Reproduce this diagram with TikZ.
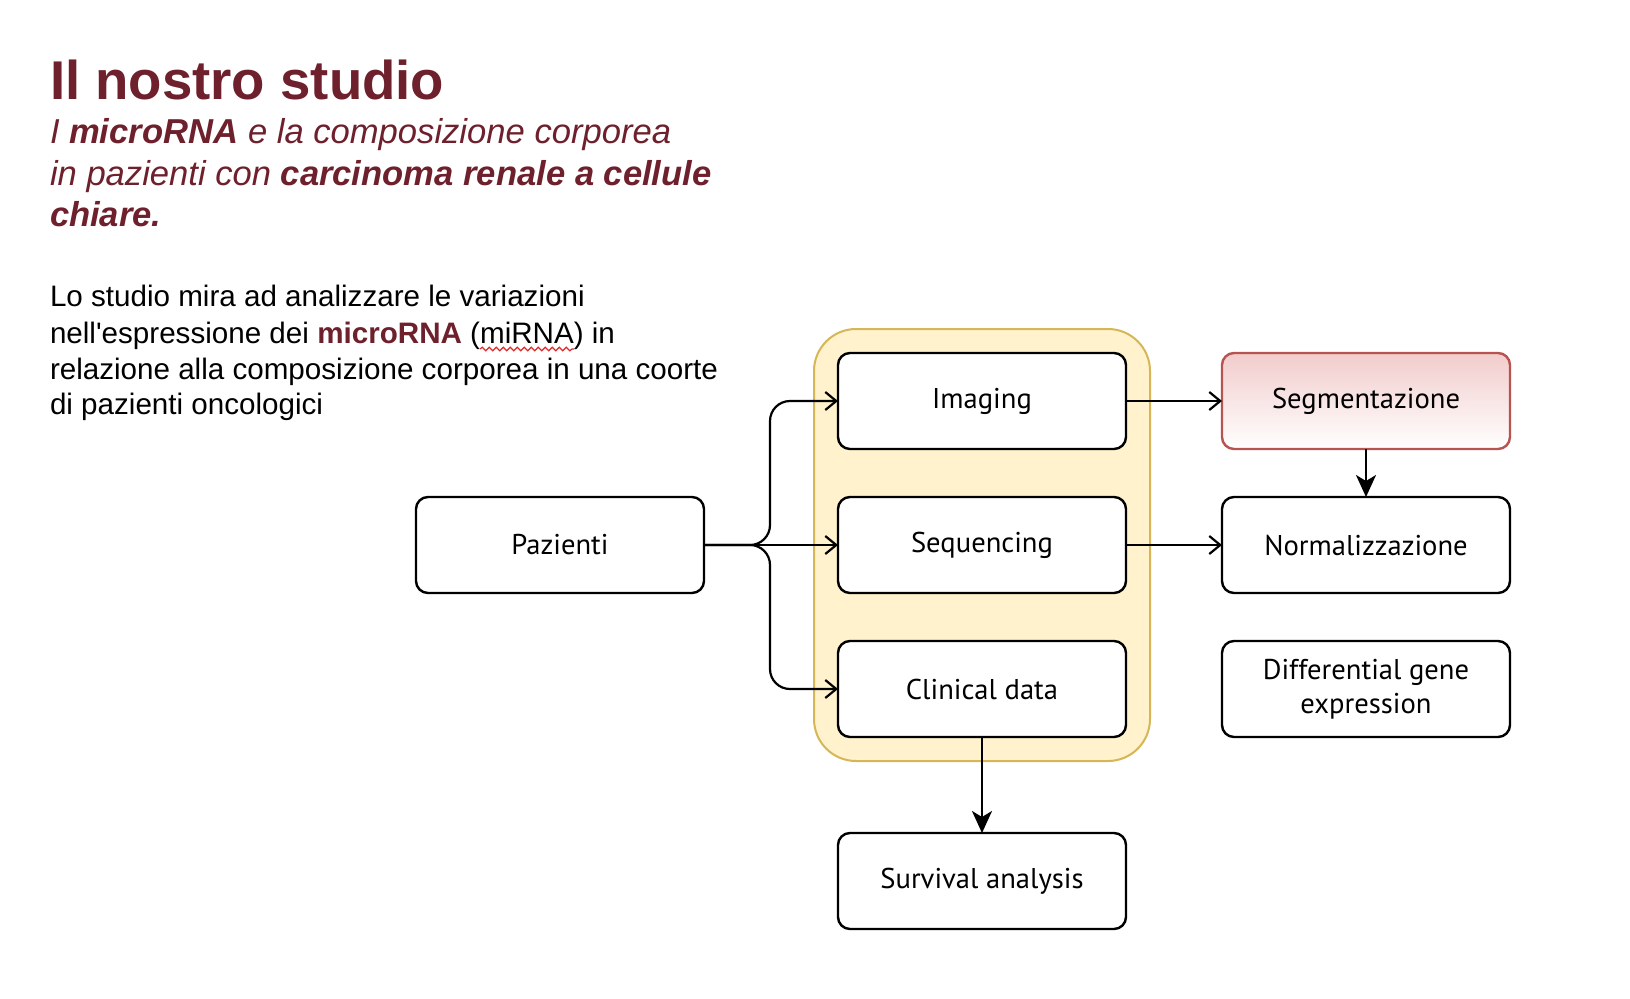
\documentclass[tikz,border=0pt]{standalone}
\usepackage{fontspec}
\setmainfont{Liberation Sans}
\newfontfamily\boxfont{PT Sans}
\usetikzlibrary{arrows.meta,decorations.pathmorphing}
\definecolor{titlered}{RGB}{110,32,44}
\definecolor{grpfill}{RGB}{255,242,204}
\definecolor{grpdraw}{RGB}{214,182,86}
\definecolor{segtop}{RGB}{242,204,204}
\definecolor{segdraw}{RGB}{184,84,80}
\definecolor{spellred}{RGB}{225,40,40}
\begin{document}
\begin{tikzpicture}[x=0.5pt,y=-0.5pt,
  boxbase/.style={line width=1.2pt, rounded corners=6pt, minimum width=144pt, minimum height=48pt,
    inner sep=0pt, outer sep=0pt, font=\boxfont\fontsize{14.3pt}{17pt}\selectfont, align=center},
  box/.style={boxbase, draw=black, fill=white},
  segbox/.style={boxbase, draw=segdraw, top color=segtop, bottom color=white},
  grpbox/.style={draw=grpdraw, fill=grpfill, line width=1pt, rounded corners=21pt,
    minimum width=168pt, minimum height=216pt, inner sep=0pt, outer sep=0pt},
  openarr/.style={line width=1.1pt, -{Straight Barb[length=5.5pt,width=9pt]}},
  solidarr/.style={line width=1.1pt, -{Stealth[length=11pt,width=10pt,inset=3pt]}},
  txt/.style={anchor=base west, inner sep=0pt, outer sep=0pt},
  titlefont/.style={font=\fontsize{27.3pt}{32pt}\selectfont\bfseries, text=titlered},
  subfont/.style={font=\fontsize{17.3pt}{21pt}\selectfont\itshape, text=titlered},
  bodyfont/.style={font=\fontsize{14.8pt}{18pt}\selectfont, text=black}
]
\useasboundingbox (0,0) rectangle (1630,998);
\fill[white] (0,0) rectangle (1630,998);

% title and subtitle
\node[txt, titlefont] (title) at (50,99) {Il nostro studio};
\node[txt, subfont] (sub1) at (50,143.5) {I \textbf{microRNA} e la composizione corporea};
\node[txt, subfont] (sub2) at (50,185) {in pazienti con \textbf{carcinoma renale a cellule}};
\node[txt, subfont] (sub3) at (50,226.6) {\textbf{chiare.}};

% body text
\node[txt, bodyfont] (body1) at (50,306.6) {Lo studio mira ad analizzare le variazioni};
\node[txt, bodyfont] (body2a) at (50,343) {nell\textquotesingle espressione dei \textcolor{titlered}{\textbf{microRNA}} (};
\node[txt, bodyfont] (mirna) at (body2a.base east) {miRNA};
\node[txt, bodyfont] (body2b) at (mirna.base east) {) in};
\node[txt, bodyfont] (body3) at (50,379.4) {relazione alla composizione corporea in una coorte};
\node[txt, bodyfont] (body4) at (50,414.8) {di pazienti oncologici};
\draw[spellred, line width=0.6pt, decorate, decoration={snake, amplitude=0.9pt, segment length=3.5pt}]
  ([yshift=-3pt]mirna.base west) -- ([yshift=-3pt]mirna.base east);

% group
\node[grpbox] (grp) at (982,545) {};

% boxes
\node[box] (paz) at (560,545) {Pazienti};
\node[box] (img) at (982,401) {Imaging};
\node[box] (seq) at (982,545) {Sequencing};
\node[box] (cli) at (982,689) {Clinical data};
\node[box] (surv) at (982,881) {Survival analysis};
\node[segbox] (seg) at (1366,401) {Segmentazione};
\node[box] (norm) at (1366,545) {Normalizzazione};
\node[box] (dge) at (1366,689) {Differential gene\\expression};

% connectors
\coordinate (split) at (770,545);
\draw[openarr] (paz.east) -- (seq.west);
\draw[openarr, rounded corners=10pt] (paz.east) -- (split) |- (img.west);
\draw[openarr, rounded corners=10pt] (paz.east) -- (split) |- (cli.west);
\draw[openarr] (img.east) -- (seg.west);
\draw[openarr] (seq.east) -- (norm.west);
\draw[solidarr] (seg.south) -- (norm.north);
\draw[solidarr] (cli.south) -- (surv.north);
\end{tikzpicture}
\end{document}
